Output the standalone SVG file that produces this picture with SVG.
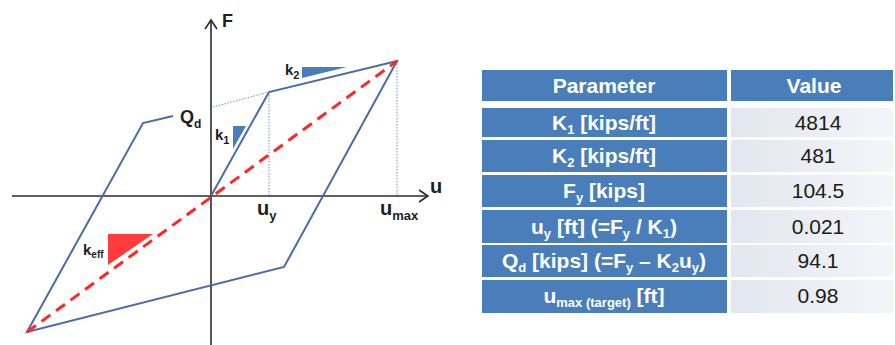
<svg xmlns="http://www.w3.org/2000/svg" width="895" height="345" viewBox="0 0 895 345">
<style>
.ax{stroke:#2b2b2b;stroke-width:1.6;fill:none}
.loop{stroke:#4a6ca8;stroke-width:2;fill:none;stroke-linejoin:miter}
.dot{stroke:#6f8fc8;stroke-width:1;stroke-dasharray:1.5 1.5;fill:none}
.red{stroke:#ff2626;stroke-width:3;stroke-dasharray:11 7;fill:none}
.lbl{font-family:"Liberation Sans",Arial,sans-serif;font-weight:bold;fill:#1e1e1e}
.hd{fill:#4a7ebb}
.val{fill:url(#vg)}
.th{font-family:"Liberation Sans",Arial,sans-serif;font-weight:bold;font-size:21px;fill:#ffffff;text-anchor:middle}
.tv{font-family:"Liberation Sans",Arial,sans-serif;font-size:21px;fill:#1a1a1a;text-anchor:middle}
</style>
<defs>
<linearGradient id="vg" x1="0" y1="0" x2="1" y2="0">
<stop offset="0" stop-color="#e2e6ee"/>
<stop offset="1" stop-color="#f3f5f9"/>
</linearGradient>
</defs>
<rect width="895" height="345" fill="#ffffff"/>
<g id="chart">
<g id="axes">
<line class="ax" x1="12" y1="196" x2="428" y2="196"/>
<polyline class="ax" points="419,190 428,196 419,202"/>
<line class="ax" x1="211" y1="345" x2="211" y2="20"/>
<polyline class="ax" points="205,29 211,20 217,29"/>
</g>
<g id="guides">
<line class="dot" x1="269" y1="92" x2="269" y2="196"/>
<line class="dot" x1="397" y1="61" x2="397" y2="196"/>
<line class="dot" x1="213" y1="107" x2="269" y2="92"/>
</g>
<g id="loop">
<polyline class="loop" points="173,116 143,123 27,332 284,267 397,61 269,92 211,196"/>
</g>
<g id="keff-line">
<line class="red" x1="27" y1="332" x2="397" y2="61"/>
</g>
<g id="triangles">
<polygon points="233,126 246,126 233,149" fill="#4a7ebb"/>
<polygon points="302,67 347,67 302,78" fill="#4a7ebb"/>
<polygon points="108,234 153,234 108,265" fill="#ff3b3b"/>
</g>
<g id="labels">
<text class="lbl" x="222" y="27" font-size="18">F</text>
<text class="lbl" x="430" y="193" font-size="20">u</text>
<text class="lbl" x="257" y="215" font-size="20">u<tspan font-size="13" dy="5">y</tspan></text>
<text class="lbl" x="380" y="215" font-size="20">u<tspan font-size="13" dy="5">max</tspan></text>
<text class="lbl" x="180" y="123" font-size="18">Q<tspan font-size="12" dy="5">d</tspan></text>
<text class="lbl" x="215" y="140" font-size="15">k<tspan font-size="11" dy="4">1</tspan></text>
<text class="lbl" x="285" y="75" font-size="15">k<tspan font-size="11" dy="4">2</tspan></text>
<text class="lbl" x="83" y="255" font-size="15">k<tspan font-size="10" dy="3">eff</tspan></text>
</g>
</g>
<g id="table">
<g id="row-header">
<rect class="hd" x="482" y="70" width="245" height="31"/>
<rect class="hd" x="731" y="70" width="162" height="31"/>
<text class="th" x="604" y="93">Parameter</text>
<text class="th" x="814" y="93">Value</text>
</g>
<g id="row-k1">
<rect class="hd" x="482" y="108" width="245" height="29"/>
<rect class="val" x="731" y="108" width="162" height="29"/>
<text class="th" x="604" y="130">K<tspan font-size="13" dy="4">1</tspan><tspan dy="-4"> [kips/ft]</tspan></text>
<text class="tv" x="818" y="130">4814</text>
</g>
<g id="row-k2">
<rect class="hd" x="482" y="140" width="245" height="32"/>
<rect class="val" x="731" y="140" width="162" height="32"/>
<text class="th" x="604" y="163">K<tspan font-size="13" dy="4">2</tspan><tspan dy="-4"> [kips/ft]</tspan></text>
<text class="tv" x="818" y="163">481</text>
</g>
<g id="row-fy">
<rect class="hd" x="482" y="175" width="245" height="32"/>
<rect class="val" x="731" y="175" width="162" height="32"/>
<text class="th" x="604" y="198">F<tspan font-size="13" dy="4">y</tspan><tspan dy="-4"> [kips]</tspan></text>
<text class="tv" x="818" y="198">104.5</text>
</g>
<g id="row-uy">
<rect class="hd" x="482" y="210" width="245" height="33"/>
<rect class="val" x="731" y="210" width="162" height="33"/>
<text class="th" x="604" y="234">u<tspan font-size="13" dy="4">y</tspan><tspan dy="-4"> [ft] (=F</tspan><tspan font-size="13" dy="4">y</tspan><tspan dy="-4"> / K</tspan><tspan font-size="13" dy="4">1</tspan><tspan dy="-4">)</tspan></text>
<text class="tv" x="818" y="234">0.021</text>
</g>
<g id="row-qd">
<rect class="hd" x="482" y="245" width="245" height="32"/>
<rect class="val" x="731" y="245" width="162" height="32"/>
<text class="th" x="604" y="268">Q<tspan font-size="13" dy="4">d</tspan><tspan dy="-4"> [kips] (=F</tspan><tspan font-size="13" dy="4">y</tspan><tspan dy="-4"> – K</tspan><tspan font-size="13" dy="4">2</tspan><tspan dy="-4">u</tspan><tspan font-size="13" dy="4">y</tspan><tspan dy="-4">)</tspan></text>
<text class="tv" x="818" y="268">94.1</text>
</g>
<g id="row-umax">
<rect class="hd" x="482" y="280" width="245" height="33"/>
<rect class="val" x="731" y="280" width="162" height="33"/>
<text class="th" x="604" y="303">u<tspan font-size="13" dy="4">max (target)</tspan><tspan dy="-4"> [ft]</tspan></text>
<text class="tv" x="818" y="303">0.98</text>
</g>
</g>
</svg>
